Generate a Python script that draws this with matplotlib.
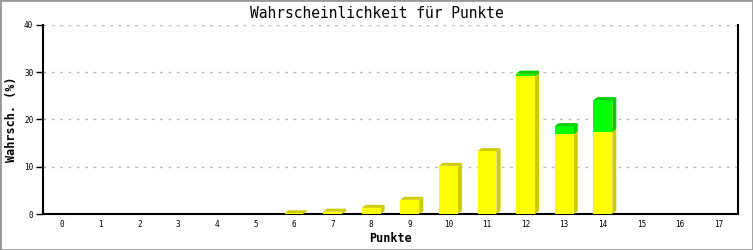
import matplotlib.pyplot as plt
from matplotlib.patches import Polygon, Rectangle

punkte = list(range(18))
gelb = [0, 0, 0, 0, 0, 0, 0.15, 0.5, 1.3, 3.0, 10.2, 13.3, 29.2, 16.9, 17.4, 0, 0, 0]
gruen = [0, 0, 0, 0, 0, 0, 0, 0, 0, 0, 0, 0, 0.5, 1.7, 6.7, 0, 0, 0]

W, H = 753, 250
fig = plt.figure(figsize=(W / 100, H / 100), dpi=100)
fig.patches.append(Rectangle((0, 0), 1, 1, transform=fig.transFigure,
                             fill=False, edgecolor='#999999', linewidth=2))

x0, x1, ytop, ybot = 43, 738, 25, 214
ax = fig.add_axes([x0 / W, (H - ybot) / H, (x1 - x0) / W, (ybot - ytop) / H])
ax.set_xlim(-0.5, 17.5)
ax.set_ylim(0, 40)

# 3D depth in data units (4 px right, 3 px up)
dx = 4 / ((x1 - x0) / 18)
dy = 3 / ((ybot - ytop) / 40)
bw = 0.49

def bar3d(x, y0, h, front, dark):
    if h <= 0:
        return
    l, r, y1 = x - bw / 2, x + bw / 2, y0 + h
    ax.add_patch(Polygon([(r, y0), (r + dx, y0 + dy), (r + dx, y1 + dy), (r, y1)],
                         closed=True, facecolor=dark, edgecolor='none', zorder=3))
    ax.add_patch(Polygon([(l, y1), (l + dx, y1 + dy), (r + dx, y1 + dy), (r, y1)],
                         closed=True, facecolor=dark, edgecolor='none', zorder=3))
    ax.add_patch(Rectangle((l, y0), bw, h, facecolor=front, edgecolor='none', zorder=4))

for p, g, gr in zip(punkte, gelb, gruen):
    bar3d(p, 0, g, '#ffff00', '#cccc00')
    bar3d(p, g, gr, '#00ff00', '#00cc00')

ax.set_yticks([0, 10, 20, 30, 40])
ax.set_xticks(punkte)
ax.yaxis.grid(True, linestyle=(0, (2, 4)), color='#bbbbbb', linewidth=1)
ax.set_axisbelow(True)
ax.spines['top'].set_visible(False)
for s in ['left', 'right', 'bottom']:
    ax.spines[s].set_linewidth(1.5)
ax.tick_params(axis='y', length=5, width=1, labelsize=5.5, pad=2)
ax.tick_params(axis='x', length=0, labelsize=5.5, pad=4)
for lab in ax.get_xticklabels() + ax.get_yticklabels():
    lab.set_family('DejaVu Sans Mono')

ax.set_xlabel('Punkte', family='DejaVu Sans Mono', fontweight='bold', fontsize=8.5)
ax.set_ylabel('Wahrsch. (%)', family='DejaVu Sans Mono', fontweight='bold', fontsize=8.5)
ax.xaxis.set_label_coords(0.5, (ybot - 239) / (ybot - ytop))
ax.yaxis.set_label_coords((12 - x0) / (x1 - x0), 0.5)
ax.xaxis.label.set_va('center')
ax.yaxis.label.set_va('center')
fig.text(0.5, 1 - 13 / H, 'Wahrscheinlichkeit für Punkte', ha='center', va='center',
         family='DejaVu Sans Mono', fontsize=10.5)

fig.savefig('out.png', dpi=100)
